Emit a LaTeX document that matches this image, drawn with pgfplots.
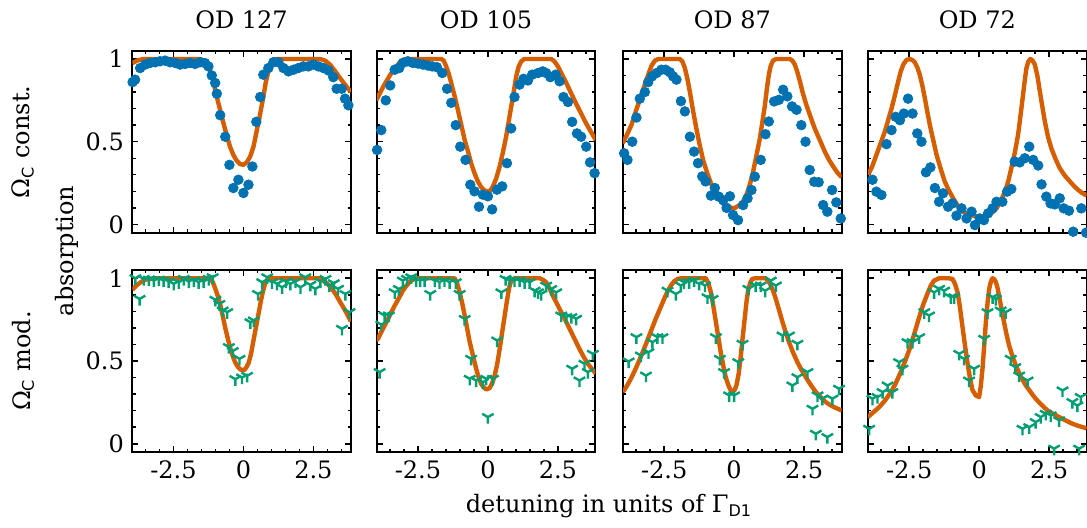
\documentclass[border=0pt]{standalone}
\usepackage{pgfplots}
\pgfplotsset{compat=1.18}
\usetikzlibrary{plotmarks}
\usepackage{fontspec}
\setmainfont{DejaVu Serif}
\setsansfont{DejaVu Sans}
\definecolor{cblue}{HTML}{0072B2}
\definecolor{corange}{HTML}{D55E00}
\definecolor{cgreen}{HTML}{009E73}
\pgfplotsset{
 panel/.style={
  scale only axis, width=109.3pt, height=91pt, anchor=north west,
  xmin=-3.97, xmax=3.84, ymin=-0.05, ymax=1.05,
  xtick={-2.5,0,2.5}, ytick={0,0.5,1},
  minor xtick={-3.5,-3,-2,-1.5,-1,-0.5,0.5,1,1.5,2,3,3.5},
  minor ytick={0.1,0.2,0.3,0.4,0.6,0.7,0.8,0.9},
  tick align=inside, xtick pos=both, ytick pos=both,
  major tick length=3pt, minor tick length=1.7pt,
  major tick style={line width=0.8pt, black},
  minor tick style={line width=0.7pt, black},
  axis line style={line width=1pt},
  tick label style={font=\fontsize{12}{14.4}\selectfont},
  title style={font=\fontsize{12}{14.4}\selectfont, at={(0.5,1)}, anchor=base, yshift=5.2pt},
  clip=true,
 },
 dots/.style={only marks, mark=*, mark size=2.4pt, color=cblue},
 ys/.style={only marks, mark=Mercedes star flipped, mark size=3.3pt, color=cgreen, mark options={line width=1.2pt}},
 model/.style={no marks, color=corange, line width=2.2pt, line join=round},
}
\begin{document}
\fontsize{12}{14.4}\selectfont
\begin{tikzpicture}
\useasboundingbox (0,0) rectangle (543.5pt,-264pt);
% ---------------- top row ----------------
\begin{axis}[panel, at={(66.15pt,-25.35pt)}, title={OD 127}, xticklabels={}, yticklabels={0,0.5,1}]
\addplot[dots] coordinates {(-3.96,0.86)(-3.87,0.875)(-3.69,0.945)(-3.51,0.966)(-3.33,0.976)(-3.15,0.98)(-2.98,0.986)(-2.80,0.99)(-2.62,0.98)(-2.44,0.976)(-2.26,0.966)(-2.08,0.97)(-1.90,0.976)(-1.73,0.97)(-1.55,0.98)(-1.37,0.975)(-1.25,0.955)(-1.13,0.90)(-1.01,0.855)(-0.95,0.79)(-0.83,0.66)(-0.65,0.53)(-0.50,0.36)(-0.36,0.22)(-0.18,0.27)(0.0,0.19)(0.18,0.24)(0.32,0.35)(0.46,0.62)(0.60,0.77)(0.71,0.905)(0.89,0.945)(1.07,0.98)(1.25,0.98)(1.43,0.945)(1.61,0.925)(1.79,0.935)(1.96,0.945)(2.14,0.955)(2.32,0.955)(2.50,0.966)(2.68,0.955)(2.86,0.945)(3.04,0.93)(3.21,0.89)(3.33,0.82)(3.51,0.82)(3.63,0.76)(3.75,0.72)};
\addplot[model] coordinates {(-3.97,0.975)(-3.8,0.99)(-3.57,1.0)(-1.55,1.0)(-1.40,0.99)(-1.25,0.955)(-1.10,0.88)(-0.95,0.77)(-0.83,0.69)(-0.71,0.61)(-0.60,0.54)(-0.48,0.47)(-0.36,0.42)(-0.24,0.385)(-0.12,0.365)(0,0.36)(0.12,0.375)(0.24,0.41)(0.36,0.47)(0.48,0.57)(0.60,0.67)(0.71,0.77)(0.80,0.86)(0.89,0.925)(0.98,0.975)(1.07,0.995)(1.15,1.0)(2.74,1.0)(2.92,0.99)(3.1,0.965)(3.28,0.925)(3.45,0.885)(3.63,0.845)(3.84,0.80)};
\end{axis}
\begin{axis}[panel, at={(188.4pt,-25.35pt)}, title={OD 105}, xticklabels={}, yticklabels={}]
\addplot[dots] coordinates {(-3.96,0.45)(-3.81,0.57)(-3.65,0.75)(-3.49,0.84)(-3.33,0.935)(-3.17,0.945)(-3.04,0.976)(-2.86,0.986)(-2.68,0.976)(-2.50,0.972)(-2.32,0.966)(-2.14,0.96)(-1.99,0.955)(-1.82,0.95)(-1.63,0.915)(-1.46,0.82)(-1.31,0.735)(-1.15,0.60)(-0.99,0.47)(-0.80,0.39)(-0.63,0.24)(-0.48,0.20)(-0.32,0.107)(-0.18,0.18)(0.0,0.17)(0.15,0.091)(0.32,0.21)(0.51,0.23)(0.68,0.37)(0.83,0.58)(0.95,0.77)(1.13,0.845)(1.27,0.88)(1.43,0.87)(1.58,0.905)(1.79,0.915)(1.96,0.925)(2.08,0.915)(2.23,0.89)(2.42,0.905)(2.56,0.865)(2.70,0.77)(2.86,0.74)(3.01,0.62)(3.18,0.55)(3.33,0.53)(3.51,0.47)(3.65,0.375)(3.81,0.31)};
\addplot[model] coordinates {(-3.99,0.75)(-3.81,0.81)(-3.63,0.865)(-3.45,0.915)(-3.27,0.955)(-3.12,0.985)(-2.98,0.998)(-2.8,1.0)(-1.67,1.0)(-1.58,0.99)(-1.49,0.955)(-1.40,0.91)(-1.31,0.855)(-1.19,0.775)(-1.07,0.69)(-0.95,0.60)(-0.83,0.51)(-0.71,0.44)(-0.60,0.37)(-0.48,0.31)(-0.36,0.26)(-0.24,0.225)(-0.12,0.205)(0,0.2)(0.09,0.205)(0.18,0.23)(0.30,0.28)(0.42,0.35)(0.54,0.44)(0.65,0.53)(0.74,0.62)(0.83,0.71)(0.92,0.80)(1.01,0.895)(1.10,0.955)(1.19,0.985)(1.30,1.0)(2.26,1.0)(2.38,0.985)(2.5,0.955)(2.65,0.905)(2.8,0.855)(2.98,0.79)(3.15,0.73)(3.33,0.67)(3.51,0.61)(3.68,0.56)(3.85,0.51)};
\end{axis}
\begin{axis}[panel, at={(311.5pt,-25.35pt)}, title={OD 87}, xticklabels={}, yticklabels={}]
\addplot[dots] coordinates {(-3.93,0.43)(-3.81,0.39)(-3.64,0.50)(-3.49,0.646)(-3.37,0.76)(-3.19,0.80)(-3.07,0.86)(-2.93,0.895)(-2.77,0.915)(-2.60,0.935)(-2.45,0.935)(-2.30,0.92)(-2.18,0.895)(-2.06,0.875)(-1.90,0.745)(-1.76,0.683)(-1.58,0.53)(-1.43,0.44)(-1.29,0.37)(-1.14,0.29)(-1.02,0.26)(-0.83,0.174)(-0.69,0.22)(-0.55,0.168)(-0.39,0.147)(-0.27,0.10)(-0.15,0.17)(-0.04,0.057)(0.14,0.026)(0.32,0.117)(0.48,0.158)(0.62,0.208)(0.74,0.289)(0.95,0.39)(1.12,0.545)(1.24,0.622)(1.43,0.743)(1.60,0.753)(1.75,0.814)(1.90,0.774)(2.07,0.713)(2.23,0.693)(2.40,0.60)(2.55,0.50)(2.70,0.329)(2.86,0.258)(3.02,0.255)(3.18,0.117)(3.33,0.077)(3.50,0.208)(3.65,0.133)(3.81,0.036)};
\addplot[model] coordinates {(-3.98,0.49)(-3.82,0.545)(-3.67,0.60)(-3.52,0.68)(-3.37,0.755)(-3.22,0.83)(-3.07,0.905)(-2.95,0.96)(-2.83,0.99)(-2.71,1.0)(-1.94,1.0)(-1.85,0.985)(-1.76,0.945)(-1.67,0.88)(-1.58,0.80)(-1.47,0.69)(-1.35,0.58)(-1.23,0.48)(-1.11,0.39)(-0.96,0.31)(-0.81,0.24)(-0.66,0.19)(-0.51,0.147)(-0.36,0.12)(-0.21,0.105)(0,0.097)(0.2,0.117)(0.32,0.14)(0.44,0.178)(0.56,0.24)(0.68,0.32)(0.80,0.42)(0.92,0.52)(1.01,0.62)(1.10,0.72)(1.17,0.82)(1.24,0.905)(1.31,0.96)(1.39,0.99)(1.51,1.0)(1.99,1.0)(2.08,0.99)(2.17,0.966)(2.26,0.92)(2.35,0.865)(2.46,0.79)(2.58,0.723)(2.73,0.65)(2.88,0.58)(3.06,0.51)(3.24,0.44)(3.39,0.39)(3.54,0.35)(3.68,0.315)(3.84,0.285)};
\end{axis}
\begin{axis}[panel, at={(434pt,-25.35pt)}, title={OD 72}, xticklabels={}, yticklabels={}]
\addplot[dots] coordinates {(-3.81,0.27)(-3.67,0.198)(-3.49,0.178)(-3.31,0.485)(-3.13,0.57)(-2.98,0.65)(-2.83,0.63)(-2.69,0.67)(-2.54,0.76)(-2.38,0.67)(-2.21,0.55)(-2.06,0.50)(-1.90,0.315)(-1.74,0.345)(-1.58,0.22)(-1.43,0.137)(-1.29,0.188)(-1.11,0.107)(-0.95,0.127)(-0.81,0.053)(-0.63,0.097)(-0.45,0.036)(-0.27,0.077)(-0.15,-0.004)(0.02,0.036)(0.17,0.026)(0.32,0.067)(0.48,0.097)(0.62,0.137)(0.83,0.137)(1.0,0.198)(1.15,0.214)(1.27,0.38)(1.45,0.375)(1.63,0.40)(1.79,0.47)(1.93,0.39)(2.11,0.356)(2.23,0.242)(2.40,0.168)(2.55,0.127)(2.70,0.121)(2.88,0.158)(3.02,0.097)(3.21,0.083)(3.36,-0.044)(3.65,0.097)(3.82,-0.05)};
\addplot[model] coordinates {(-3.97,0.30)(-3.82,0.35)(-3.67,0.42)(-3.52,0.49)(-3.37,0.56)(-3.25,0.63)(-3.13,0.70)(-3.01,0.78)(-2.89,0.865)(-2.80,0.925)(-2.71,0.966)(-2.60,0.993)(-2.48,1.0)(-2.38,0.993)(-2.30,0.98)(-2.21,0.95)(-2.12,0.905)(-2.03,0.84)(-1.94,0.764)(-1.85,0.68)(-1.76,0.60)(-1.64,0.51)(-1.52,0.42)(-1.38,0.34)(-1.23,0.26)(-1.08,0.205)(-0.93,0.158)(-0.75,0.11)(-0.57,0.077)(-0.39,0.06)(-0.21,0.053)(0.02,0.046)(0.17,0.049)(0.32,0.057)(0.47,0.072)(0.62,0.097)(0.77,0.14)(0.92,0.198)(1.04,0.26)(1.15,0.34)(1.27,0.43)(1.39,0.54)(1.48,0.66)(1.57,0.784)(1.63,0.87)(1.69,0.945)(1.76,0.985)(1.83,1.0)(1.91,0.99)(1.99,0.966)(2.08,0.90)(2.17,0.804)(2.26,0.71)(2.35,0.62)(2.46,0.53)(2.58,0.46)(2.73,0.395)(2.88,0.34)(3.06,0.295)(3.24,0.26)(3.39,0.232)(3.54,0.208)(3.68,0.19)(3.84,0.175)};
\end{axis}
% ---------------- bottom row ----------------
\begin{axis}[panel, at={(66.15pt,-135pt)}, xticklabels={-2.5,0,2.5}, yticklabels={0,0.5,1}]
\addplot[ys] coordinates {(-3.86,1.0)(-3.71,0.875)(-3.56,0.996)(-3.38,0.992)(-3.20,0.986)(-3.02,0.992)(-2.85,0.986)(-2.67,0.98)(-2.49,0.966)(-2.31,0.976)(-2.13,0.996)(-1.95,0.98)(-1.77,0.986)(-1.60,0.976)(-1.42,0.98)(-1.24,0.996)(-1.10,1.006)(-1.0,0.87)(-0.86,0.845)(-0.74,0.805)(-0.58,0.795)(-0.52,0.584)(-0.38,0.56)(-0.29,0.39)(-0.14,0.513)(-0.05,0.40)(0.13,0.41)(0.25,0.734)(0.37,0.745)(0.52,0.905)(0.67,0.976)(0.85,1.006)(1.02,0.976)(1.20,0.966)(1.38,0.946)(1.52,0.98)(1.68,0.966)(1.86,0.98)(2.04,0.946)(2.21,1.006)(2.39,0.96)(2.57,0.936)(2.75,0.98)(2.93,0.996)(3.07,0.956)(3.23,0.97)(3.38,0.936)(3.52,0.694)(3.64,0.905)(3.79,0.795)};
\addplot[model] coordinates {(-3.97,0.93)(-3.83,0.955)(-3.68,0.975)(-3.53,0.99)(-3.38,0.996)(-3.2,1.0)(-1.18,1.0)(-1.09,0.975)(-1.0,0.935)(-0.91,0.89)(-0.82,0.835)(-0.73,0.765)(-0.64,0.694)(-0.55,0.63)(-0.46,0.573)(-0.37,0.525)(-0.29,0.49)(-0.2,0.465)(-0.11,0.449)(0.01,0.443)(0.10,0.46)(0.19,0.49)(0.28,0.55)(0.37,0.634)(0.46,0.715)(0.55,0.795)(0.62,0.86)(0.69,0.915)(0.77,0.965)(0.85,0.992)(0.95,1.0)(2.69,1.0)(2.81,0.99)(2.93,0.976)(3.05,0.958)(3.17,0.935)(3.31,0.9)(3.46,0.855)(3.62,0.81)(3.79,0.755)(3.84,0.74)};
\end{axis}
\begin{axis}[panel, at={(188.4pt,-135pt)}, xticklabels={-2.5,0,2.5}, yticklabels={}]
\addplot[ys] coordinates {(-3.87,0.433)(-3.81,0.72)(-3.69,0.775)(-3.54,0.775)(-3.33,0.915)(-3.18,0.935)(-3.04,0.986)(-2.89,0.996)(-2.74,1.006)(-2.56,0.986)(-2.42,0.986)(-2.26,0.986)(-2.06,0.905)(-1.90,0.986)(-1.73,0.976)(-1.55,0.986)(-1.37,0.976)(-1.15,0.976)(-1.01,0.905)(-0.83,0.754)(-0.65,0.392)(-0.60,0.513)(-0.42,0.382)(-0.18,0.372)(-0.06,0.392)(0.0,0.161)(0.18,0.392)(0.33,0.624)(0.48,0.915)(0.63,0.996)(0.77,0.986)(0.95,0.986)(1.13,0.986)(1.31,0.976)(1.49,0.976)(1.67,0.925)(1.79,0.915)(1.90,0.905)(2.08,0.955)(2.26,0.935)(2.44,0.915)(2.62,0.775)(2.80,0.765)(2.98,0.765)(3.15,0.755)(3.01,0.453)(3.27,0.382)(3.45,0.483)(3.57,0.433)(3.75,0.543)};
\addplot[model] coordinates {(-3.99,0.625)(-3.93,0.634)(-3.78,0.685)(-3.63,0.734)(-3.48,0.785)(-3.33,0.835)(-3.18,0.88)(-3.04,0.925)(-2.89,0.96)(-2.74,0.986)(-2.56,1.0)(-1.19,1.0)(-1.10,0.97)(-1.01,0.915)(-0.92,0.85)(-0.83,0.775)(-0.74,0.695)(-0.65,0.614)(-0.53,0.53)(-0.42,0.453)(-0.33,0.40)(-0.24,0.362)(-0.15,0.34)(-0.06,0.328)(0.06,0.336)(0.15,0.365)(0.24,0.412)(0.33,0.48)(0.42,0.573)(0.51,0.675)(0.60,0.775)(0.68,0.865)(0.75,0.936)(0.82,0.98)(0.89,0.996)(1.0,1.0)(1.85,1.0)(1.97,0.99)(2.08,0.976)(2.20,0.94)(2.32,0.895)(2.44,0.855)(2.56,0.815)(2.74,0.755)(2.92,0.694)(3.10,0.632)(3.27,0.573)(3.42,0.525)(3.57,0.483)(3.70,0.455)(3.85,0.425)};
\end{axis}
\begin{axis}[panel, at={(311.5pt,-135pt)}, xticklabels={-2.5,0,2.5}, yticklabels={}]
\addplot[ys] coordinates {(-3.77,0.497)(-3.49,0.644)(-3.33,0.533)(-3.15,0.412)(-3.06,0.553)(-2.92,0.614)(-2.74,0.644)(-2.56,0.644)(-2.38,0.925)(-2.08,0.905)(-1.90,0.956)(-1.79,0.976)(-1.61,0.976)(-1.43,0.986)(-1.25,0.966)(-1.04,0.956)(-0.95,0.885)(-0.77,0.875)(-0.65,0.644)(-0.51,0.513)(-0.36,0.433)(-0.18,0.292)(0.0,0.292)(0.15,0.493)(0.30,0.604)(0.51,0.936)(0.77,0.956)(0.95,0.956)(1.11,0.925)(1.31,0.986)(1.49,0.956)(1.73,0.654)(1.96,0.654)(2.26,0.604)(2.26,0.402)(2.08,0.352)(2.62,0.433)(2.80,0.211)(2.98,0.292)(3.15,0.272)(2.92,0.06)(3.33,0.04)(3.51,0.272)(3.75,0.332)};
\addplot[model] coordinates {(-3.98,0.315)(-3.93,0.322)(-3.81,0.355)(-3.69,0.392)(-3.54,0.445)(-3.39,0.503)(-3.25,0.56)(-3.10,0.624)(-2.95,0.69)(-2.80,0.755)(-2.65,0.815)(-2.50,0.875)(-2.38,0.92)(-2.26,0.956)(-2.14,0.982)(-2.02,0.996)(-1.9,1.0)(-1.01,1.0)(-0.92,0.97)(-0.83,0.915)(-0.74,0.83)(-0.65,0.734)(-0.56,0.64)(-0.48,0.553)(-0.39,0.475)(-0.30,0.402)(-0.21,0.355)(-0.12,0.322)(-0.04,0.316)(0.02,0.325)(0.08,0.352)(0.16,0.42)(0.24,0.533)(0.31,0.65)(0.39,0.775)(0.45,0.87)(0.51,0.936)(0.58,0.975)(0.65,0.996)(0.75,1.0)(1.13,1.0)(1.22,0.985)(1.31,0.956)(1.40,0.92)(1.49,0.875)(1.61,0.805)(1.73,0.734)(1.85,0.67)(1.96,0.614)(2.11,0.55)(2.26,0.493)(2.41,0.445)(2.56,0.402)(2.74,0.355)(2.92,0.312)(3.10,0.28)(3.27,0.252)(3.42,0.235)(3.57,0.221)(3.72,0.21)(3.85,0.201)};
\end{axis}
\begin{axis}[panel, at={(434pt,-135pt)}, xticklabels={-2.5,0,2.5}, yticklabels={}]
\addplot[ys] coordinates {(-3.93,0.09)(-3.81,0.272)(-3.63,0.282)(-3.45,0.312)(-3.27,0.352)(-3.1,0.312)(-2.86,0.493)(-2.74,0.453)(-2.56,0.614)(-2.38,0.614)(-2.14,0.644)(-1.96,0.795)(-1.79,0.775)(-1.61,0.915)(-1.43,0.936)(-1.25,0.925)(-1.01,0.885)(-0.89,0.885)(-0.71,0.543)(-0.54,0.513)(-0.36,0.382)(-0.18,0.453)(0.18,0.634)(0.3,0.795)(0.48,0.885)(0.6,0.875)(0.77,0.805)(0.95,0.795)(1.13,0.513)(1.29,0.463)(1.43,0.412)(1.73,0.382)(1.55,0.09)(1.79,0.1)(2.02,0.131)(2.2,0.161)(2.38,0.181)(2.56,0.171)(2.86,0.141)(2.68,-0.03)(2.98,0.322)(3.33,0.252)(3.51,0.231)(3.63,0.282)(3.57,-0.03)};
\addplot[model] coordinates {(-3.98,0.161)(-3.78,0.19)(-3.57,0.221)(-3.36,0.262)(-3.15,0.312)(-2.98,0.365)(-2.80,0.433)(-2.62,0.51)(-2.44,0.594)(-2.29,0.68)(-2.14,0.765)(-2.0,0.84)(-1.85,0.905)(-1.73,0.955)(-1.61,0.986)(-1.43,1.0)(-1.10,1.0)(-0.95,0.996)(-0.86,0.965)(-0.77,0.915)(-0.69,0.83)(-0.60,0.714)(-0.51,0.60)(-0.42,0.493)(-0.33,0.40)(-0.24,0.325)(-0.12,0.292)(0,0.282)(0.06,0.35)(0.12,0.453)(0.18,0.59)(0.24,0.734)(0.30,0.85)(0.36,0.936)(0.42,0.98)(0.48,1.0)(0.54,0.995)(0.6,0.976)(0.66,0.94)(0.71,0.895)(0.80,0.815)(0.89,0.734)(0.98,0.66)(1.07,0.594)(1.19,0.53)(1.31,0.473)(1.49,0.405)(1.67,0.352)(1.85,0.31)(2.02,0.272)(2.23,0.235)(2.44,0.201)(2.65,0.18)(2.86,0.161)(3.10,0.14)(3.33,0.121)(3.56,0.107)(3.84,0.093)};
\end{axis}
% ---------------- labels ----------------
\node[rotate=90] at (11.5pt,-71pt) {Ω\textsubscript{\sffamily C} const.};
\node[rotate=90] at (11.5pt,-180.5pt) {Ω\textsubscript{\sffamily C} mod.};
\node[rotate=90] at (33.5pt,-125.5pt) {absorption};
\node[anchor=base] at (304.5pt,-256.5pt) {detuning in units of Γ\textsubscript{\sffamily D1}};
\end{tikzpicture}
\end{document}
